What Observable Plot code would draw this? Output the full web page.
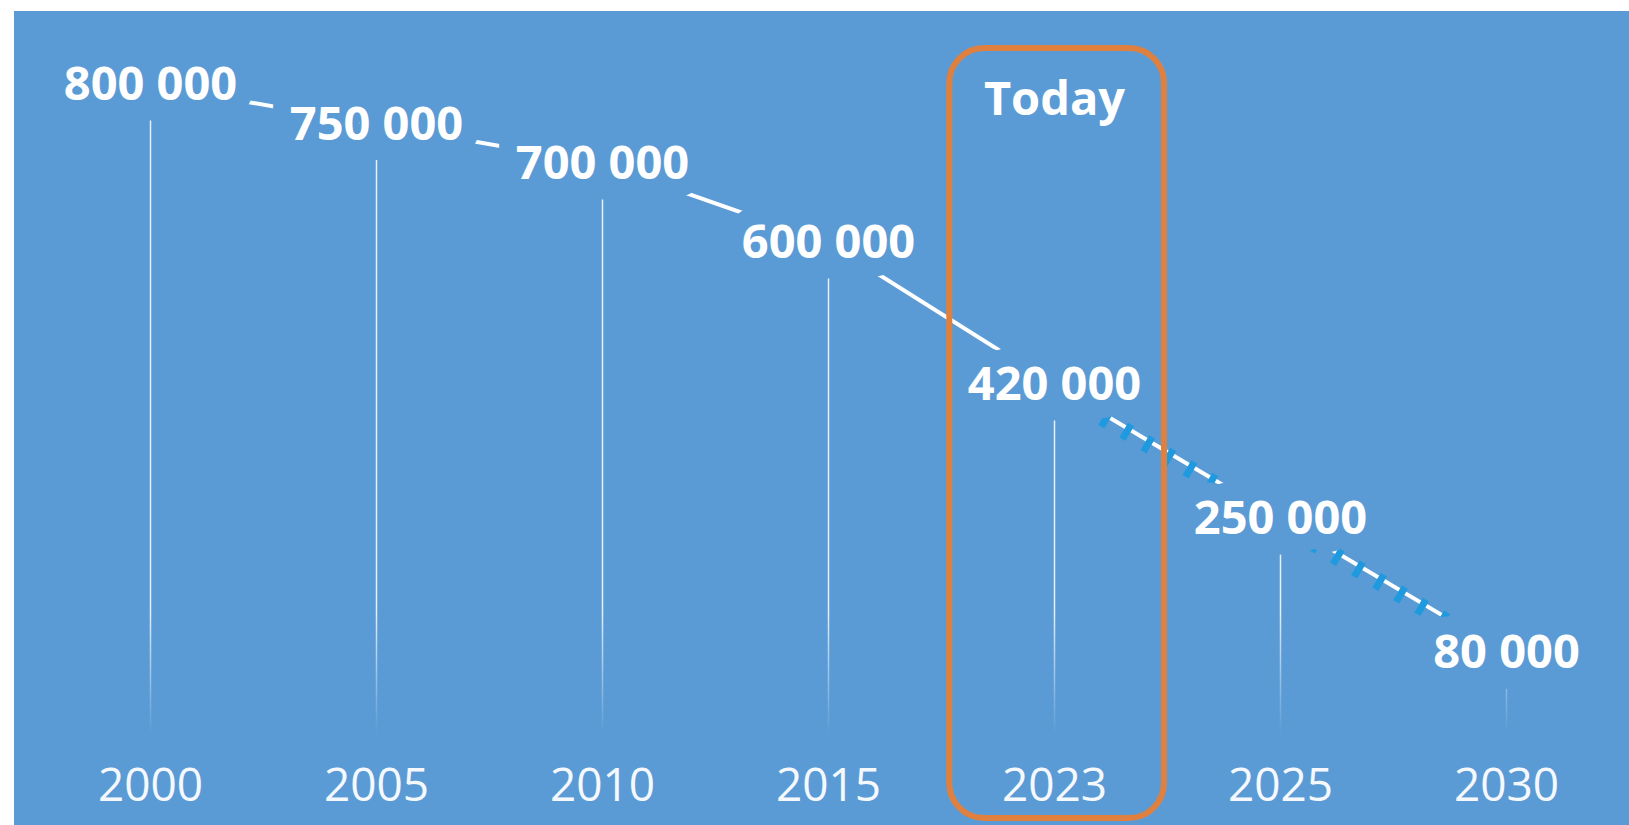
<!DOCTYPE html>
<html><head><meta charset="utf-8">
<script src="https://cdn.jsdelivr.net/npm/d3@7"></script>
<script src="https://cdn.jsdelivr.net/npm/@observablehq/plot@0.6"></script>
<style>
html,body{margin:0;padding:0;background:#fff;overflow:hidden;width:1629px;height:825px}
#chart{position:absolute;left:14px;top:11px}
</style></head><body><div id="chart"></div>
<script>
// ---- data ----
const years  = ["2000", "2005", "2010", "2015", "2023", "2025", "2030"];
const values = [800000, 750000, 700000, 600000, 420000, 250000, 80000];
const todayYear = "2023";
const todayText = "Today";

const fmt = v => d3.format(",")(v).replace(/,/g, " ");
const data = years.map((year, i) => ({year, value: values[i], label: fmt(values[i])}));
const actual = data.filter(d => +d.year <= +todayYear);
const projected = data.filter(d => +d.year >= +todayYear);

const BG = "#5b9bd5";
const ORANGE = "#e0803f";
const LABEL_DY = -36;

const defs = () => {
  const d = d3.create("svg:defs");
  const g = d.append("linearGradient").attr("id", "fade")
    .attr("gradientUnits", "userSpaceOnUse")
    .attr("x1", 0).attr("x2", 0).attr("y1", 600).attr("y2", 722);
  g.append("stop").attr("offset", 0).attr("stop-color", "#ffffff").attr("stop-opacity", 0.85);
  g.append("stop").attr("offset", 1).attr("stop-color", "#ffffff").attr("stop-opacity", 0);
  return d.node();
};

const chart = Plot.plot({
  width: 1615,
  height: 814,
  marginTop: 37,
  marginBottom: 7,
  marginLeft: 21.5,
  marginRight: 9.4,
  style: {background: BG, fontFamily: "'Open Sans', sans-serif", overflow: "visible"},
  x: {type: "band", domain: years, padding: 0, axis: null},
  y: {domain: [0, 800000], range: [741, 109.5], axis: null},
  marks: [
    defs,
    Plot.ruleX(data, {x: "year", y1: "value", y2: 0, stroke: "url(#fade)", strokeWidth: 1.5}),
    Plot.line(actual, {x: "year", y: "value", dy: LABEL_DY, stroke: "white", strokeWidth: 4, strokeLinecap: "round"}),
    Plot.line(projected, {x: "year", y: "value", dy: LABEL_DY, stroke: "white", strokeWidth: 4, strokeLinecap: "butt"}),
    Plot.line(projected, {x: "year", y: "value", dy: LABEL_DY + 4, stroke: "#1f9ade", strokeWidth: 17,
      strokeLinecap: "butt", strokeLinejoin: "miter", strokeDasharray: "7 17.5", strokeDashoffset: -7}),
    Plot.text(data, {x: "year", y: "value", text: "label", dy: LABEL_DY, lineAnchor: "middle",
      fontSize: 47, fontWeight: 700, fill: "white", stroke: BG, strokeWidth: 36, strokeLinejoin: "round"}),
    Plot.cell([todayYear], {x: d => d, fill: "none", stroke: ORANGE, strokeWidth: 6, rx: 35,
      insetLeft: 8.3, insetRight: 3}),
    Plot.text([todayText], {x: () => todayYear, text: d => d, frameAnchor: "top", dy: 51, lineAnchor: "middle",
      fontSize: 47, fontWeight: 700, fill: "white"}),
    Plot.text(years, {x: d => d, text: d => d, frameAnchor: "bottom", dy: -32, lineAnchor: "middle",
      fontSize: 46, fontWeight: 400, fill: "#f5f9fd"})
  ]
});
document.getElementById("chart").append(chart);
</script>
</body></html>
